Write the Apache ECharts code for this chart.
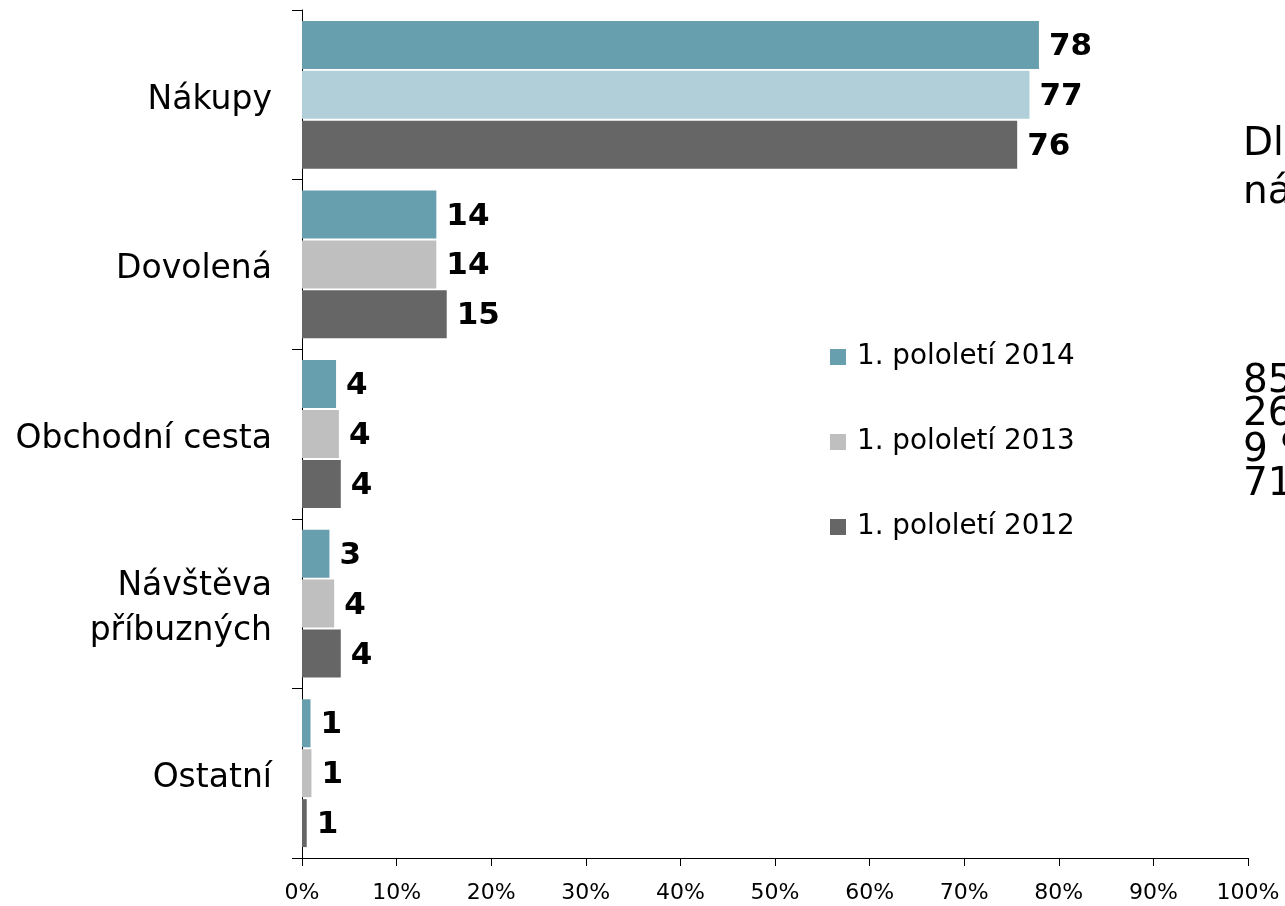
<!DOCTYPE html>
<html>
<head>
<meta charset="utf-8">
<script src="https://cdn.jsdelivr.net/npm/echarts@6/dist/echarts.min.js"></script>
<style>
html,body{margin:0;padding:0;background:#fff;}
#chart{width:1285px;height:906px;}
</style>
</head>
<body>
<div id="chart"></div>
<script>
const categories = ['Nákupy', 'Dovolená', 'Obchodní cesta', 'Návštěva\npříbuzných', 'Ostatní'];
const seriesNames = ['1. pololetí 2014', '1. pololetí 2013', '1. pololetí 2012'];
const values2014 = [77.9, 14.2, 3.6, 2.9, 0.9];
const values2013 = [76.9, 14.2, 3.9, 3.4, 1.0];
const values2012 = [75.6, 15.3, 4.1, 4.1, 0.5];
const labels2014 = ['78', '14', '4', '3', '1'];
const labels2013 = ['77', '14', '4', '4', '1'];
const labels2012 = ['76', '15', '4', '4', '1'];
const xTicks = [0, 10, 20, 30, 40, 50, 60, 70, 80, 90, 100];
const sideLines = ['Dl', 'ná', '85 %', '26 %', '9 %', '71 %'];

const FONT = '"DejaVu Sans", Verdana, sans-serif';
const colors = ['#689FAE', '#BFBFBF', '#666666'];
const allValues = [values2014, values2013, values2012];
const allLabels = [labels2014, labels2013, labels2012];

const chart = echarts.init(document.getElementById('chart'));

const series = seriesNames.map((name, si) => ({
  name: name,
  type: 'bar',
  barWidth: 48,
  barGap: '4%',
  itemStyle: { color: colors[si] },
  data: allValues[si].map((v, i) => {
    const d = { value: v };
    if (si === 1 && i === 0) d.itemStyle = { color: '#B0CFD8' };
    return d;
  }),
  label: {
    show: true,
    position: 'right',
    distance: 10,
    offset: [0, 2],
    color: '#000',
    fontFamily: FONT,
    fontWeight: 'bold',
    fontSize: 31,
    formatter: p => allLabels[si][p.dataIndex]
  }
}));

const sideY = [147, 195, 384, 417, 453, 487];

chart.setOption({
  animation: false,
  backgroundColor: '#fff',
  grid: { left: 302, right: 37, top: 10, bottom: 48, containLabel: false },
  legend: {
    orient: 'vertical',
    left: 825,
    top: 337,
    itemWidth: 16,
    itemHeight: 16,
    itemGap: 55,
    icon: 'rect',
    textStyle: { fontFamily: FONT, fontSize: 27.8, color: '#000', lineHeight: 30, padding: [0, 0, 0, 6] },
    data: seriesNames
  },
  xAxis: {
    type: 'value',
    min: xTicks[0],
    max: xTicks[xTicks.length - 1],
    interval: 10,
    splitLine: { show: false },
    axisLine: { show: true, lineStyle: { color: '#000', width: 1 } },
    axisTick: { show: true, length: 8, lineStyle: { color: '#000' } },
    axisLabel: { fontFamily: FONT, fontSize: 22, color: '#000', margin: 24, formatter: '{value}%' }
  },
  yAxis: {
    type: 'category',
    inverse: true,
    data: categories,
    axisLine: { show: true, lineStyle: { color: '#000', width: 1 } },
    axisTick: { show: true, length: 10, lineStyle: { color: '#000' } },
    axisLabel: {
      color: '#000',
      margin: 30,
      align: 'right',
      formatter: v => '{s| }\n' + v.split('\n').map(s => '{a|' + s + '}').join('\n'),
      rich: {
        s: { fontSize: 1, lineHeight: 11 },
        a: { fontFamily: FONT, fontSize: 33, color: '#000', lineHeight: 45, align: 'right' }
      }
    }
  },
  graphic: sideLines.map((t, i) => ({
    type: 'text',
    left: 1243,
    top: sideY[i] - 22,
    style: { text: t, font: '39px ' + FONT, fill: '#000' }
  })),
  series: series
});
</script>
</body>
</html>
